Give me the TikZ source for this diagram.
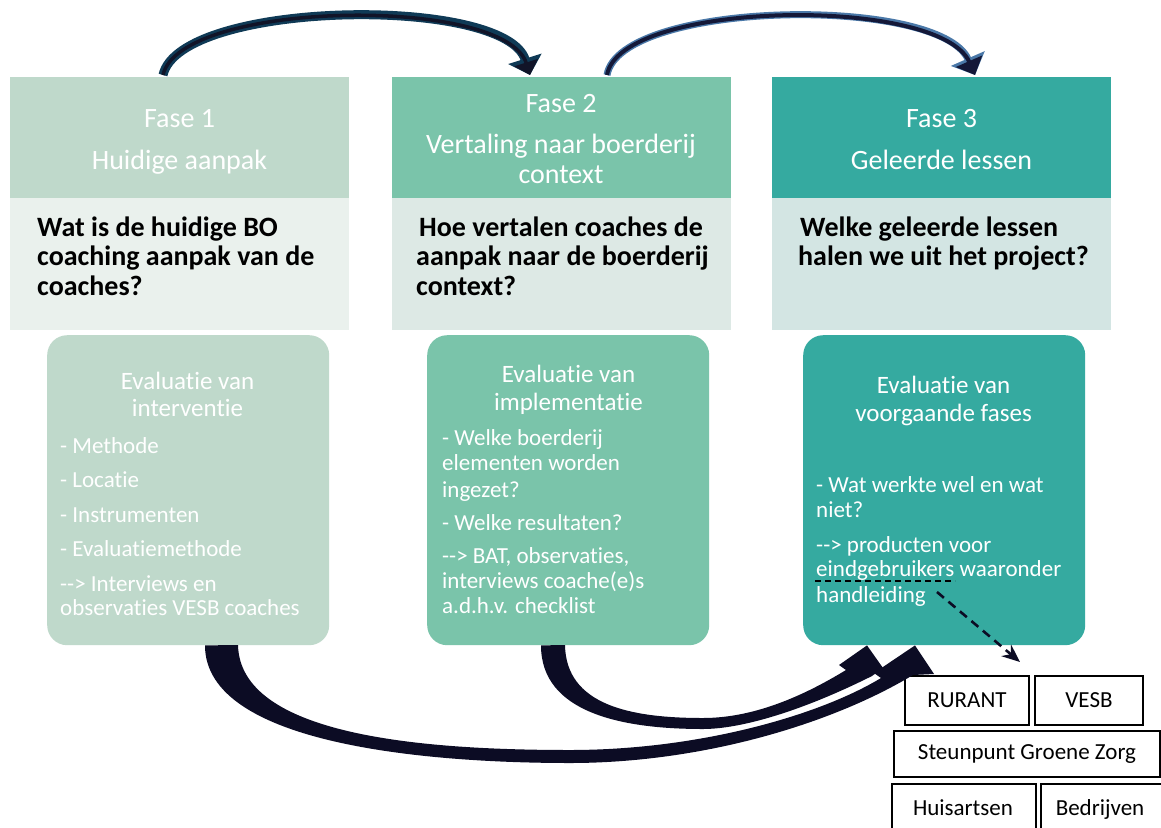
\documentclass[tikz,border=0pt]{standalone}
\usepackage{fontspec}
\setmainfont{Carlito}[Ligatures={TeX,NoCommon}]
\usetikzlibrary{arrows.meta,calc}
\definecolor{hA}{HTML}{BFD9CB}
\definecolor{hB}{HTML}{7AC4AA}
\definecolor{hC}{HTML}{35AAA0}
\definecolor{qA}{HTML}{EAF1ED}
\definecolor{qB}{HTML}{DDE9E5}
\definecolor{qC}{HTML}{D3E5E3}
\definecolor{arrTop}{HTML}{0F3A56}
\definecolor{arrTopIn}{HTML}{111428}
\definecolor{arrBlue}{HTML}{4A78A8}
\definecolor{arrNavy}{HTML}{141838}
\definecolor{arrDark}{HTML}{0C0C24}
\tikzset{
 hdr/.style={rectangle, minimum width=339pt, minimum height=121pt, inner sep=0pt, anchor=north west},
 qbx/.style={rectangle, minimum width=339pt, minimum height=132pt, inner sep=0pt, anchor=north west},
 ebx/.style={rectangle, rounded corners=20pt, minimum width=282pt, minimum height=310pt, inner sep=0pt, anchor=north west},
 htxt/.style={anchor=base, text=white, font=\fontsize{28}{30}\selectfont, inner sep=0pt},
 qtxt/.style={anchor=base west, text=black, font=\bfseries\fontsize{28}{30}\selectfont, inner sep=0pt},
 etit/.style={anchor=base, text=white, font=\fontsize{25}{28}\selectfont, inner sep=0pt},
 eitm/.style={anchor=base west, text=white, font=\fontsize{23}{25}\selectfont, inner sep=0pt},
 obox/.style={draw=black, line width=1.6pt, inner sep=0pt, font=\fontsize{23}{25}\selectfont, text=black},
}
\begin{document}
\begin{tikzpicture}[x=1pt,y=-1pt]
\useasboundingbox[fill=white] (0,0) rectangle (1161,827);

% column boxes
\node[hdr, fill=hA] (h1) at (10,77) {};
\node[hdr, fill=hB] (h2) at (392,77) {};
\node[hdr, fill=hC] (h3) at (772,77) {};
\node[qbx, fill=qA] (q1) at (10,198) {};
\node[qbx, fill=qB] (q2) at (392,198) {};
\node[qbx, fill=qC] (q3) at (772,198) {};
\node[ebx, fill=hA] (e1) at (47,335) {};
\node[ebx, fill=hB] (e2) at (427,335) {};
\node[ebx, fill=hC] (e3) at (803,335) {};

% header texts
\node[htxt] (h1a) at (179.5,127) {Fase 1};
\node[htxt] (h1b) at (179.5,169) {Huidige aanpak};
\node[htxt] (h2a) at (561,112) {Fase 2};
\node[htxt] (h2b) at (561,153) {Vertaling naar boerderij};
\node[htxt] (h2c) at (561,183) {context};
\node[htxt] (h3a) at (941.5,127) {Fase 3};
\node[htxt] (h3b) at (941.5,169) {Geleerde lessen};

% questions
\node[qtxt] (q1a) at (37,236) {Wat is de huidige BO};
\node[qtxt] (q1b) at (37,265) {coaching aanpak van de};
\node[qtxt] (q1c) at (37,295) {coaches?};
\node[qtxt] (q2a) at (419,236) {Hoe vertalen coaches de};
\node[qtxt] (q2b) at (416,265) {aanpak naar de boerderij};
\node[qtxt] (q2c) at (416,295) {context?};
\node[qtxt] (q3a) at (800,236) {Welke geleerde lessen};
\node[qtxt] (q3b) at (798,265) {halen we uit het project?};

% evaluation box 1
\node[etit] (e1t1) at (187.5,389) {Evaluatie van};
\node[etit] (e1t2) at (187.5,416) {interventie};
\node[eitm] (e1i1) at (60,453) {- Methode};
\node[eitm] (e1i2) at (60,487) {- Locatie};
\node[eitm] (e1i3) at (60,522) {- Instrumenten};
\node[eitm] (e1i4) at (60,556) {- Evaluatiemethode};
\node[eitm] (e1i5) at (60,591) {-{}-{}> Interviews en};
\node[eitm] (e1i6) at (60,615) {observaties VESB coaches};

% evaluation box 2
\node[etit] (e2t1) at (568.5,382) {Evaluatie van};
\node[etit] (e2t2) at (568.5,410) {implementatie};
\node[eitm] (e2i1) at (442,445) {- Welke boerderij};
\node[eitm] (e2i2) at (442,470) {elementen worden};
\node[eitm] (e2i3) at (442,497) {ingezet?};
\node[eitm] (e2i4) at (442,530) {- Welke resultaten?};
\node[eitm] (e2i5) at (442,563) {-{}-{}> BAT, observaties,};
\node[eitm] (e2i6) at (442,588) {interviews coache(e)s};
\node[eitm] (e2i7) at (442,613) {a.d.h.v. checklist};

% evaluation box 3
\node[etit] (e3t1) at (943.5,393) {Evaluatie van};
\node[etit] (e3t2) at (943.5,421) {voorgaande fases};
\node[eitm] (e3i1) at (816,492) {- Wat werkte wel en wat};
\node[eitm] (e3i2) at (816,517) {niet?};
\node[eitm] (e3i3) at (816,552) {-{}-{}> producten voor};
\node[eitm] (e3i4) at (816,576) {eindgebruikers waaronder};
\node[eitm] (e3i5) at (816,602) {handleiding};

% end-user boxes
\node[obox, minimum width=124pt, minimum height=49pt] (rur) at (967,700.5) {RURANT};
\node[obox, minimum width=108pt, minimum height=49pt] (vesb) at (1089,700.5) {VESB};
\node[obox, minimum width=266pt, minimum height=46pt] (sgz) at (1027,754) {Steunpunt Groene Zorg};
\node[obox, minimum width=144pt, minimum height=52pt, anchor=north west] (hui) at (891,783) {};
\node[obox, minimum width=125pt, minimum height=52pt, anchor=north west] (bed) at (1040,783) {};
\node[anchor=base, inner sep=0pt, font=\fontsize{23}{25}\selectfont] (huit) at (963,815) {Huisartsen};
\node[anchor=base, inner sep=0pt, font=\fontsize{23}{25}\selectfont] (bedt) at (1100,815) {Bedrijven};

% dashed underline and arrow
\coordinate (ul1) at ($(e3i4.base west)+(-1,5)$);
\coordinate (ul2) at (955,581);
\draw[line width=2pt, dash pattern=on 6pt off 4pt, black] (ul1) -- (ul2);
\coordinate (da1) at (937,592);
\coordinate (da2) at (1020,662);
\draw[line width=2.6pt, dash pattern=on 9pt off 6pt, arrDark, -{Stealth[length=18pt,width=15pt]}] (da1) -- (da2);

% top arrows
\coordinate (t1s) at ($(h1.north west)+(153,-2)$);
\coordinate (t1e) at ($(h2.north west)+(138,-2)$);
\draw[line width=9pt, arrTop, -{Triangle[length=17pt,width=34pt]}] (t1s) .. controls (180,0) and (505,-5) .. (t1e);
\draw[line width=3.5pt, arrTopIn, -{Triangle[length=13pt,width=24pt]}] (t1s) .. controls (180,0) and (505,-5) .. (t1e);
\coordinate (t2s) at ($(h2.north west)+(215,-2)$);
\coordinate (t2e) at ($(h3.north west)+(203,-2)$);
\draw[line width=7pt, arrBlue, -{Triangle[length=18pt,width=36pt]}] (t2s) .. controls (620,0) and (940,-5) .. (t2e);
\draw[line width=4pt, arrNavy, -{Triangle[length=15pt,width=28pt]}] (t2s) .. controls (620,0) and (940,-5) .. (t2e);

% bottom arrows (tapered, from evaluation boxes 1 and 2 to box 3)
\coordinate (bAs) at ($(e1.south west)+(158,0)$);
\coordinate (bAt) at ($(e3.south west)+(112,0)$);
\fill[arrDark] (bAs) .. controls (205,745) and (430,763) .. (570,763)
  .. controls (700,763) and (830,725) .. (913,675)
  -- (934,674) -- (bAt) -- (874,673) -- (881,678)
  .. controls (820,715) and (700,750) .. (570,750)
  .. controls (420,750) and (240,735) .. (238,645) -- cycle;
\coordinate (bBs) at ($(e2.south west)+(114,0)$);
\coordinate (bBt) at ($(e3.south west)+(64,0)$);
\fill[arrDark] (bBs) .. controls (541,712) and (620,729) .. (703,729)
  .. controls (740,729) and (800,712) .. (872,676)
  -- (883,668) -- (bBt) -- (839,665) -- (846,670)
  .. controls (805,695) and (755,718) .. (703,718)
  .. controls (630,718) and (566,705) .. (565,645) -- cycle;
\end{tikzpicture}
\end{document}
